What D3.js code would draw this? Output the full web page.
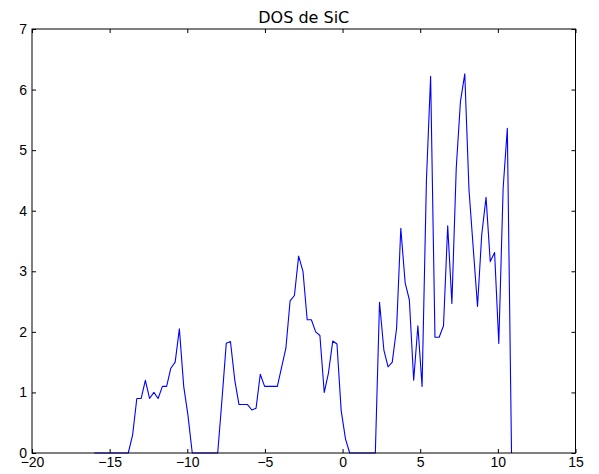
<!DOCTYPE html>
<html>
<head>
<meta charset="utf-8">
<script src="https://cdn.jsdelivr.net/npm/d3@7/dist/d3.min.js"></script>
<style>
    body { margin: 0; background: #fff; }
</style>
</head>
<body>
<div id="chart"></div>
<script>
const title = 'DOS de SiC';

// energies (eV)
const energy = [
    -15.99, -15.72, -15.44, -15.17, -14.89, -14.62, -14.34, -14.07, -13.80, -13.52,
    -13.25, -12.97, -12.70, -12.43, -12.15, -11.88, -11.60, -11.33, -11.06, -10.78,
    -10.51, -10.23, -9.96, -9.68, -9.41, -9.14, -8.86, -8.59, -8.31, -8.04,
    -7.76, -7.49, -7.22, -6.94, -6.67, -6.39, -6.12, -5.84, -5.57, -5.30,
    -5.02, -4.75, -4.47, -4.20, -3.92, -3.65, -3.38, -3.10, -2.83, -2.55,
    -2.28, -2.01, -1.73, -1.46, -1.18, -0.91, -0.63, -0.36, -0.09, 0.19,
    0.46, 0.74, 1.01, 1.28, 1.56, 1.83, 2.11, 2.38, 2.66, 2.93,
    3.20, 3.48, 3.75, 4.03, 4.30, 4.58, 4.85, 5.12, 5.40, 5.67,
    5.95, 6.22, 6.50, 6.77, 7.04, 7.32, 7.59, 7.87, 8.14, 8.41,
    8.69, 8.96, 9.24, 9.51, 9.79, 10.06, 10.34, 10.61, 10.88
];

// density of states
const dos = [
    0, 0, 0, 0, 0, 0, 0, 0, 0, 0.3,
    0.9, 0.9, 1.2, 0.9, 1.0, 0.9, 1.1, 1.1, 1.4, 1.5,
    2.05, 1.1, 0.63, 0, 0, 0, 0, 0, 0, 0,
    0.9, 1.81, 1.84, 1.2, 0.8, 0.8, 0.8, 0.71, 0.74, 1.3,
    1.1, 1.1, 1.1, 1.1, 1.42, 1.73, 2.51, 2.6, 3.25, 3.0,
    2.2, 2.2, 2.0, 1.94, 1.0, 1.32, 1.85, 1.8, 0.7, 0.23,
    0, 0, 0, 0, 0, 0, 0, 2.49, 1.7, 1.42,
    1.5, 2.06, 3.71, 2.81, 2.53, 1.2, 2.1, 1.1, 4.5, 6.22,
    1.91, 1.91, 2.1, 3.75, 2.47, 4.7, 5.8, 6.26, 4.35, 3.4,
    2.42, 3.6, 4.22, 3.16, 3.31, 1.81, 4.37, 5.36, 0
];

const xTicks = [-20, -15, -10, -5, 0, 5, 10, 15];
const yTicks = [0, 1, 2, 3, 4, 5, 6, 7];

var w = 599,
    h = 474;

var m = { top: 29, right: 23.5, bottom: 21, left: 32 };

var iw = w - m.left - m.right,
    ih = h - m.top - m.bottom;

var x = d3.scaleLinear().domain([-20, 15]).range([0, iw]);
var y = d3.scaleLinear().domain([0, 7]).range([ih, 0]);

// matplotlib style labels with a real minus sign
var fmt = d => (d < 0 ? '\u2212' : '') + Math.abs(d);

var svg = d3.select('#chart')
    .append('svg')
    .attr('width', w)
    .attr('height', h)
    .style('font-family', '"DejaVu Sans", sans-serif');

svg.append('rect')
    .attr('width', w)
    .attr('height', h)
    .style('fill', '#fff');

var g = svg.append('g')
    .attr('transform', `translate(${m.left},${m.top})`);

var line = d3.line()
    .x((d, i) => x(energy[i]))
    .y(d => y(d));

g.append('path')
    .datum(dos)
    .attr('d', line)
    .style('fill', 'none')
    .style('stroke', '#0000ff')
    .style('stroke-width', '1.1px')
    .style('stroke-linejoin', 'round');

// ticks point inwards on all four sides, labels only bottom/left
function styleAxis (sel) {
    sel.select('.domain').remove();
    sel.selectAll('line').style('stroke', '#000').style('stroke-width', '1px');
    sel.selectAll('text').style('fill', '#000').style('font-size', '14px');
}

g.append('g')
    .attr('transform', `translate(0,${ih})`)
    .call(d3.axisBottom(x).tickValues(xTicks).tickFormat(fmt).tickSizeInner(-4).tickSizeOuter(0).tickPadding(4))
    .call(styleAxis);

g.append('g')
    .call(d3.axisTop(x).tickValues(xTicks).tickSizeInner(-4).tickSizeOuter(0).tickFormat(''))
    .call(styleAxis);

g.append('g')
    .call(d3.axisLeft(y).tickValues(yTicks).tickFormat(fmt).tickSizeInner(-4).tickSizeOuter(0).tickPadding(5))
    .call(styleAxis);

g.append('g')
    .attr('transform', `translate(${iw},0)`)
    .call(d3.axisRight(y).tickValues(yTicks).tickSizeInner(-4).tickSizeOuter(0).tickFormat(''))
    .call(styleAxis);

g.append('rect')
    .attr('width', iw)
    .attr('height', ih)
    .style('fill', 'none')
    .style('stroke', '#000')
    .style('stroke-width', '1px');

svg.append('text')
    .attr('text-anchor', 'middle')
    .attr('x', m.left + iw / 2)
    .attr('y', 23)
    .style('font-size', '16px')
    .style('fill', '#000')
    .text(title);
</script>
</body>
</html>
